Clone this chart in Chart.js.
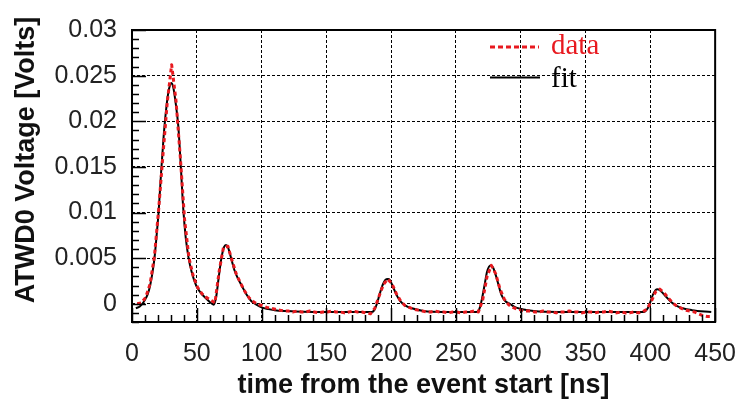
<!DOCTYPE html>
<html><head><meta charset="utf-8">
<script src="https://cdn.jsdelivr.net/npm/chart.js@4.4.1/dist/chart.umd.min.js"></script>
<style>html,body{margin:0;padding:0;background:#fff}canvas{display:block}</style>
</head><body>
<canvas id="c" width="753" height="400"></canvas>
<script>
const xTicks = [0, 50, 100, 150, 200, 250, 300, 350, 400, 450];
const yTicks = [0, 0.005, 0.01, 0.015, 0.02, 0.025, 0.03];
const xTitle = 'time from the event start [ns]';
const yTitle = 'ATWD0 Voltage [Volts]';
const legendLabels = ['data', 'fit'];

const dataT = [4,7.3,10.6,14,17.3,20.6,24,27.3,30.6,34,37.3,40.6,44,47.3,50.6,54,57.3,60.6,64,67.3,70.6,74,77.3,80.6,84,87.3,90.6,94,97.3,100.6,104,107.3,110.6,114,117.3,120.6,124,127.3,130.6,134,137.3,140.6,144,147.3,150.6,154,157.3,160.6,164,167.3,170.6,174,177.3,180.6,184,187.3,190.6,194,197.3,200.6,204,207.3,210.6,214,217.3,220.6,224,227.3,230.6,234,237.3,240.6,244,247.3,250.6,254,257.3,260.6,264,267.3,270.6,274,277.3,280.6,284,287.3,290.6,294,297.3,300.6,304,307.3,310.6,314,317.3,320.6,324,327.3,330.6,334,337.3,340.6,344,347.3,350.6,354,357.3,360.6,364,367.3,370.6,374,377.3,380.6,384,387.3,390.6,394,397.3,400.6,404,407.3,410.6,414,417.3,420.6,424,427.3,430.6,434,437.3,440.6,444,447.3];
const dataV = [0.0000,0.0001,0.0007,0.0022,0.0052,0.0104,0.0165,0.0222,0.0262,0.0222,0.0160,0.0092,0.0050,0.0030,0.0018,0.0011,0.0007,0.0004,0.0001,0.0036,0.0062,0.0063,0.0047,0.0032,0.0022,0.0013,0.0006,0.0002,-0.0001,-0.0002,-0.0004,-0.0005,-0.0006,-0.0007,-0.0008,-0.0008,-0.0009,-0.0008,-0.0009,-0.0009,-0.0008,-0.0009,-0.0010,-0.0009,-0.0009,-0.0008,-0.0009,-0.0009,-0.0010,-0.0009,-0.0008,-0.0009,-0.0009,-0.0010,-0.0011,-0.0005,0.0008,0.0021,0.0027,0.0022,0.0011,0.0003,-0.0002,-0.0004,-0.0006,-0.0007,-0.0008,-0.0009,-0.0009,-0.0008,-0.0009,-0.0009,-0.0010,-0.0009,-0.0009,-0.0010,-0.0009,-0.0009,-0.0008,-0.0009,0.0004,0.0030,0.0042,0.0033,0.0016,0.0005,-0.0001,-0.0004,-0.0006,-0.0007,-0.0008,-0.0008,-0.0009,-0.0009,-0.0008,-0.0009,-0.0009,-0.0010,-0.0009,-0.0009,-0.0008,-0.0009,-0.0009,-0.0010,-0.0009,-0.0009,-0.0010,-0.0009,-0.0009,-0.0008,-0.0009,-0.0010,-0.0009,-0.0010,-0.0010,-0.0009,-0.0010,-0.0009,-0.0006,0.0002,0.0013,0.0016,0.0012,0.0006,0.0001,-0.0003,-0.0005,-0.0007,-0.0008,-0.0009,-0.0011,-0.0013,-0.0014,-0.0014];

const fitT = [3,6,9,12,14,16,17.5,19,20.5,22.5,24.5,26.5,28.5,30.5,32,33.5,35.7,37.7,39.5,41.5,43.7,46,49.5,53,57,60,63,65,67,69,71,72.5,74,76.5,79,82,84.6,88,92,96,100,110,120,140,160,185,187,189,191,193,195.5,197.5,199,201,204,207,211,216,225,240,266,268,270,272,274,276.5,278.5,281,285,288,291.5,296,301,310,330,395,398,400,402,404,405.5,408,412,416,420,425,432,447];
const fitV = [-0.0005,-0.0003,0.0002,0.0010,0.0020,0.0036,0.0052,0.0075,0.0100,0.0145,0.0185,0.0215,0.0235,0.0242,0.0236,0.0222,0.0195,0.0150,0.0105,0.0072,0.0050,0.0035,0.0020,0.0012,0.0006,0.0002,-0.0001,0.0008,0.0030,0.0050,0.0062,0.00645,0.0062,0.0050,0.0037,0.0027,0.0020,0.0011,0.0003,-0.0001,-0.0004,-0.0007,-0.0008,-0.0009,-0.0009,-0.0009,-0.0007,0.0000,0.0010,0.0019,0.0026,0.0027,0.0026,0.0020,0.0010,0.0003,-0.0002,-0.0005,-0.0008,-0.0009,-0.0009,-0.0006,0.0005,0.0020,0.0035,0.0042,0.0040,0.0030,0.0010,0.0003,0.0000,-0.0004,-0.0006,-0.0008,-0.0009,-0.0009,-0.0005,0.0002,0.0010,0.0015,0.0016,0.0014,0.0008,0.0002,-0.0002,-0.0005,-0.0007,-0.0009];

const RED = '#e8191f';

const overlay = {
  id: 'overlay',
  afterDraw(chart) {
    const ctx = chart.ctx;
    const a = chart.chartArea;
    const xs = chart.scales.x, ys = chart.scales.y;
    ctx.save();
    ctx.strokeStyle = '#000';
    ctx.setLineDash([]);
    ctx.lineWidth = 1.5;
    ctx.beginPath();
    for (let v = 0; v <= 450; v += 10) {
      const px = Math.round(xs.getPixelForValue(v)) + 0.5;
      const len = (v % 50 === 0) ? 14 : 7;
      ctx.moveTo(px, a.bottom);
      ctx.lineTo(px, a.bottom - len);
    }
    for (let k = -2; k <= 30; k++) {
      const py = Math.round(ys.getPixelForValue(k / 1000)) + 0.5;
      const len = (k % 5 === 0) ? 14 : 7;
      ctx.moveTo(a.left, py);
      ctx.lineTo(a.left + len, py);
    }
    ctx.stroke();
    ctx.lineWidth = 2;
    ctx.strokeRect(a.left, a.top, a.right - a.left, a.bottom - a.top);
    ctx.strokeStyle = RED;
    ctx.lineWidth = 3;
    ctx.setLineDash([5, 3]);
    ctx.beginPath(); ctx.moveTo(490, 47); ctx.lineTo(539, 47); ctx.stroke();
    ctx.setLineDash([]);
    ctx.strokeStyle = '#000';
    ctx.lineWidth = 2;
    ctx.beginPath(); ctx.moveTo(490, 77.5); ctx.lineTo(540, 77.5); ctx.stroke();
    ctx.font = '29px "Liberation Serif"';
    ctx.textAlign = 'left';
    ctx.textBaseline = 'alphabetic';
    ctx.fillStyle = RED;
    ctx.fillText(legendLabels[0], 551, 54);
    ctx.fillStyle = '#000';
    ctx.fillText(legendLabels[1], 551, 87);
    ctx.fillStyle = '#111';
    ctx.font = 'bold 27px "Liberation Sans"';
    ctx.textAlign = 'center';
    ctx.fillText(xTitle, (a.left + a.right) / 2, 393);
    ctx.translate(33.5, 160);
    ctx.rotate(-Math.PI / 2);
    ctx.fillText(yTitle, 0, 0);
    ctx.restore();
  }
};

const tickFont = {family: 'Liberation Sans', size: 25};

new Chart(document.getElementById('c'), {
  type: 'line',
  data: {
    datasets: [
      {
        label: legendLabels[0],
        data: dataT.map((t, i) => ({x: t, y: dataV[i]})),
        borderColor: RED,
        borderWidth: 3,
        borderDash: [4, 3],
        borderJoinStyle: 'round',
        pointRadius: 0,
        tension: 0,
        fill: false
      },
      {
        label: legendLabels[1],
        data: fitT.map((t, i) => ({x: t, y: fitV[i]})),
        borderColor: '#000',
        borderWidth: 2,
        pointRadius: 0,
        cubicInterpolationMode: 'monotone',
        fill: false
      }
    ]
  },
  options: {
    responsive: false,
    animation: false,
    devicePixelRatio: 1,
    layout: {padding: {top: 21, right: 22, left: 0, bottom: 0}},
    plugins: {legend: {display: false}, tooltip: {enabled: false}, title: {display: false}},
    scales: {
      x: {
        type: 'linear', min: 0, max: 450,
        afterBuildTicks: s => { s.ticks = xTicks.map(v => ({value: v})); },
        afterFit: s => { s.height = 78; },
        grid: {color: '#000', lineWidth: 1, drawTicks: false},
        border: {display: false, dash: [3, 2]},
        ticks: {padding: 17, font: tickFont, color: '#222', maxRotation: 0, autoSkip: false, callback: v => String(v)}
      },
      y: {
        type: 'linear', min: -0.002, max: 0.03,
        afterBuildTicks: s => { s.ticks = yTicks.map(v => ({value: v})); },
        afterFit: s => { s.width = 132; },
        grid: {color: '#000', lineWidth: 1, drawTicks: false},
        border: {display: false, dash: [3, 2]},
        ticks: {padding: 15, font: tickFont, color: '#222', autoSkip: false, callback: v => String(+Number(v).toFixed(4))}
      }
    }
  },
  plugins: [overlay]
});
</script>
</body></html>
